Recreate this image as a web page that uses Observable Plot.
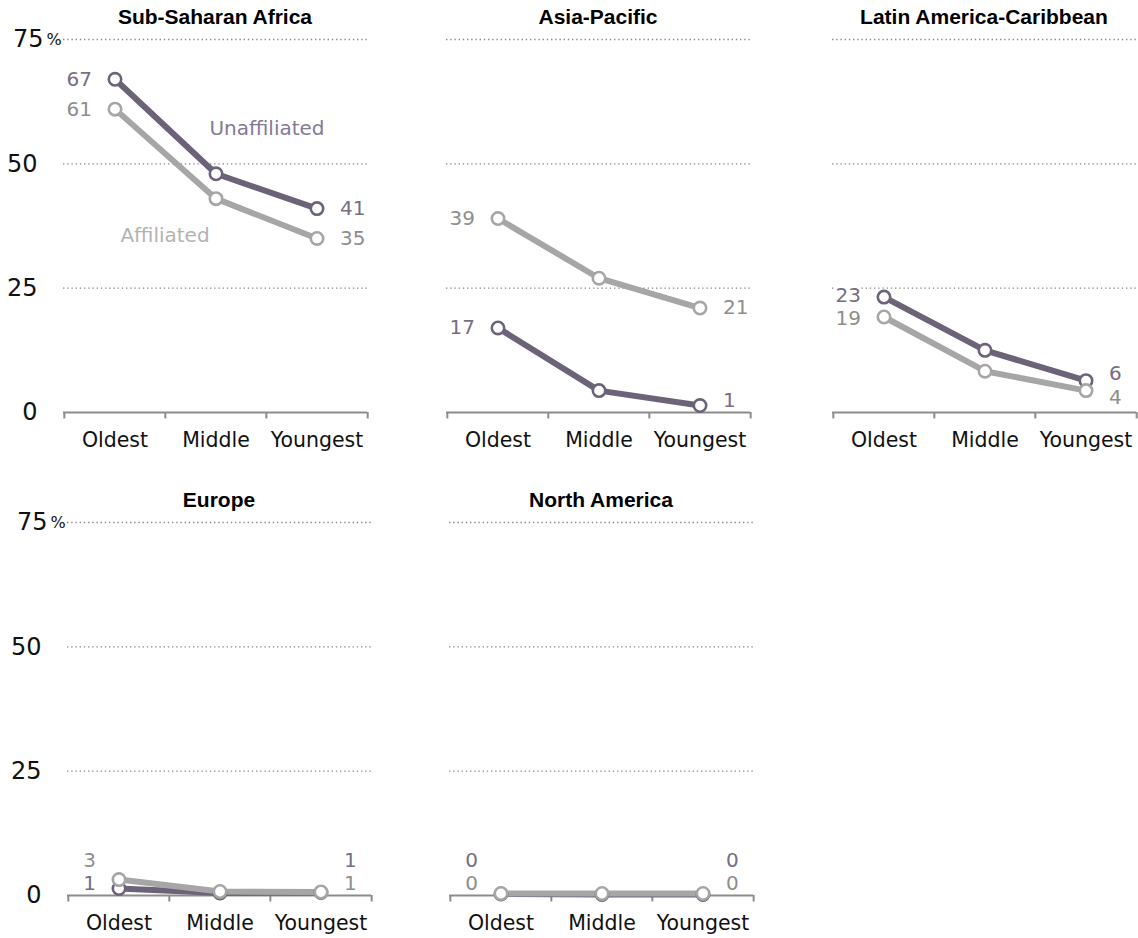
<!DOCTYPE html>
<html><head><meta charset="utf-8">
<script src="https://cdn.jsdelivr.net/npm/d3@7"></script>
<script src="https://cdn.jsdelivr.net/npm/@observablehq/plot@0.6"></script>
<style>
html,body{margin:0;padding:0;background:#fff;}
body{width:1138px;height:938px;position:relative;overflow:hidden;font-family:"DejaVu Sans",sans-serif;}
.panel{position:absolute;}
.title{position:absolute;font-family:"Liberation Sans",Arial,sans-serif;font-weight:bold;font-size:21px;line-height:22px;text-align:center;white-space:nowrap;color:#000;}
</style></head><body>
<script>
// ---- data ----
const regions = ["Sub-Saharan Africa", "Asia-Pacific", "Latin America-Caribbean", "Europe", "North America"];
const ages = ["Oldest", "Middle", "Youngest"];
const seriesNames = ["Unaffiliated", "Affiliated"];
// percent values per region, Oldest / Middle / Youngest
const unaffiliated = [
  [67, 48, 41],
  [17, 4.4, 1.4],
  [23.2, 12.5, 6.4],
  [1.4, 0.5, 0.6],
  [0.3, 0.2, 0.2]
];
const affiliated = [
  [61, 43, 35],
  [39, 27, 21],
  [19.2, 8.3, 4.4],
  [3.2, 0.8, 0.7],
  [0.4, 0.4, 0.4]
];
const yTicks = [0, 25, 50, 75];

// ---- layout ----
const plotLeft = [63, 446, 832, 67, 449];
const plotTop = [39, 39, 39, 522, 522];
const PW = 304, PH = 373, ML = 63, MB = 45;
const colors = {Unaffiliated: "#6d6378", Affiliated: "#a6a6a6"};
const labelColors = {Unaffiliated: "#776d86", Affiliated: "#8e8e8e"};
const SEP = 4.8, FLOOR = 2.3;

function rowsFor(i) {
  const out = [];
  seriesNames.forEach((s, k) => {
    const vals = k === 0 ? unaffiliated[i] : affiliated[i];
    ages.forEach((a, j) => out.push({series: s, age: a, value: vals[j]}));
  });
  return out;
}
function endLabels(i, j) {
  const u = unaffiliated[i][j], f = affiliated[i][j];
  const lu = Math.round(u), lf = Math.round(f);
  const uTop = lu === lf ? true : u > f;
  const top = uTop ? u : f, bot = uTop ? f : u;
  let yT = top, yB = bot;
  if (yT - yB < SEP) { const m = (top + bot) / 2; yT = m + SEP / 2; yB = m - SEP / 2; }
  if (yB < FLOOR) { yB = FLOOR; yT = Math.max(yT, FLOOR + SEP); }
  return [
    {series: "Unaffiliated", age: ages[j], ly: uTop ? yT : yB, text: String(lu)},
    {series: "Affiliated", age: ages[j], ly: uTop ? yB : yT, text: String(lf)}
  ];
}

const bw = PW / ages.length;
regions.forEach((region, i) => {
  const rows = rowsFor(i);
  const first = endLabels(i, 0);
  const last = endLabels(i, ages.length - 1);
  const isLeftCol = i === 0 || i === 3;
  const marks = [
    Plot.ruleY(yTicks.filter(d => d > 0), {y: d => d, stroke: "#8a8a8a", strokeWidth: 1.4, strokeDasharray: "1.4,2.8"})
  ];
  if (isLeftCol) {
    marks.push(
      Plot.text(yTicks.filter(d => d < 75), {y: d => d, text: d => String(d), frameAnchor: "left", dx: -26, textAnchor: "end", lineAnchor: "middle", fontSize: 24, fill: "#111"}),
      Plot.text(yTicks.filter(d => d === 75), {y: d => d, text: d => String(d), frameAnchor: "left", dx: -20, textAnchor: "end", lineAnchor: "middle", fontSize: 24, fill: "#111"}),
      Plot.text(yTicks.filter(d => d === 75), {y: d => d, text: () => "%", frameAnchor: "left", dx: -17, textAnchor: "start", lineAnchor: "middle", fontSize: 16, fill: "#111"})
    );
  }
  marks.push(
    Plot.text(first, {x: "age", y: "ly", text: "text", fill: d => labelColors[d.series], textAnchor: "end", dx: -23, fontSize: 20, stroke: "white", strokeWidth: 6}),
    Plot.text(last, {x: "age", y: "ly", text: "text", fill: d => labelColors[d.series], textAnchor: "start", dx: 23, fontSize: 20, stroke: "white", strokeWidth: 6})
  );
  if (i === 0) {
    marks.push(
      Plot.text([seriesNames[0]], {x: () => ages[1], y: () => 57.1, text: d => d, dx: 51, fill: "#837a96", fontSize: 20}),
      Plot.text([seriesNames[1]], {x: () => ages[0], y: () => 35.6, text: d => d, dx: 50, fill: "#b3b3b3", fontSize: 20})
    );
  }
  marks.push(
    Plot.ruleY([0], {stroke: "#8c8c8c", strokeWidth: 2.2}),
    Plot.ruleX(ages, {x: d => d, dx: -bw / 2, y1: 0, y2: -1.3, stroke: "#8c8c8c", strokeWidth: 2}),
    Plot.ruleX(ages.slice(-1), {x: d => d, dx: bw / 2, y1: 0, y2: -1.3, stroke: "#8c8c8c", strokeWidth: 2}),
    Plot.text(ages, {x: d => d, text: d => d, frameAnchor: "bottom", lineAnchor: "middle", dy: 28, fontSize: 20.5, fill: "#111"}),
    Plot.line(rows.filter(d => d.series === "Unaffiliated"), {x: "age", y: "value", stroke: colors.Unaffiliated, strokeWidth: 6}),
    Plot.line(rows.filter(d => d.series === "Affiliated"), {x: "age", y: "value", stroke: colors.Affiliated, strokeWidth: 6}),
    Plot.dot(rows.filter(d => d.series === "Unaffiliated"), {x: "age", y: "value", r: 6.2, fill: "white", stroke: colors.Unaffiliated, strokeWidth: 2.6}),
    Plot.dot(rows.filter(d => d.series === "Affiliated"), {x: "age", y: "value", r: 6.2, fill: "white", stroke: colors.Affiliated, strokeWidth: 2.6})
  );
  const chart = Plot.plot({
    width: ML + PW, height: plotTop[0] + PH + MB,
    marginLeft: ML, marginRight: 0, marginTop: plotTop[0], marginBottom: MB,
    style: {overflow: "visible", fontFamily: "'DejaVu Sans', sans-serif", background: "transparent"},
    x: {type: "band", domain: ages, padding: 0, axis: null},
    y: {domain: [0, 75], axis: null},
    marks
  });
  const wrap = document.createElement("div");
  wrap.className = "panel";
  wrap.style.left = (plotLeft[i] - ML) + "px";
  wrap.style.top = (plotTop[i] - plotTop[0]) + "px";
  wrap.appendChild(chart);
  document.body.appendChild(wrap);
  const t = document.createElement("div");
  t.className = "title";
  t.textContent = region;
  t.style.left = plotLeft[i] + "px";
  t.style.width = PW + "px";
  t.style.top = (plotTop[i] - plotTop[0] + 6) + "px";
  document.body.appendChild(t);
});
</script>
</body></html>
